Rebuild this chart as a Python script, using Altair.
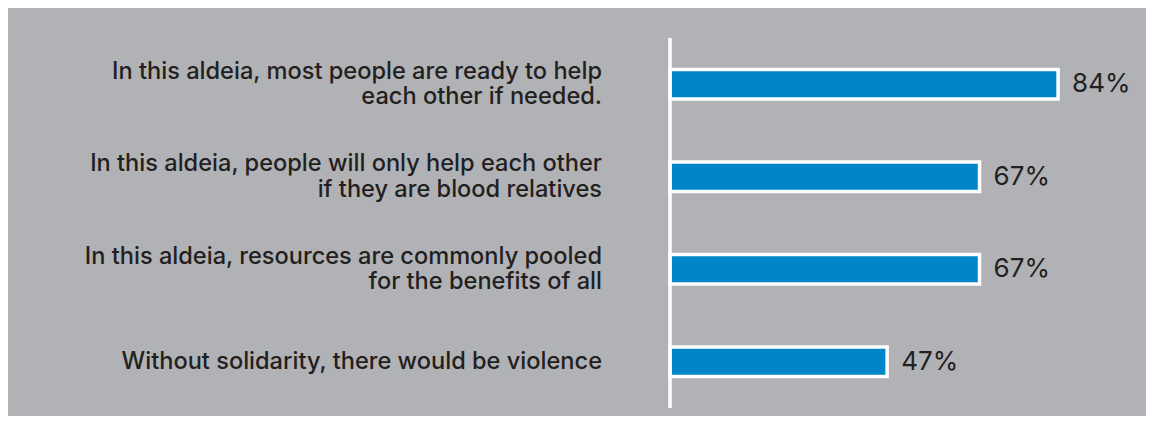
import altair as alt
import pandas as pd

line1 = [
    "In this aldeia, most people are ready to help",
    "In this aldeia, people will only help each other",
    "In this aldeia, resources are commonly pooled",
    "Without solidarity, there would be violence",
]
line2 = [
    "each other if needed.",
    "if they are blood relatives",
    "for the benefits of all",
    "",
]
values = [84, 67, 67, 47]
value_labels = ["84%", "67%", "67%", "47%"]

keys = ["s1", "s2", "s3", "s4"]
df = pd.DataFrame({"key": keys, "line1": line1, "line2": line2,
                   "value": values, "label": value_labels})

BG = "#b1b2b6"
BLUE = "#0085c8"
TEXT = "#231f20"
FONT = "Inter"

y_enc = alt.Y("key:N", sort=None, axis=None,
              scale=alt.Scale(domain=keys, paddingInner=0, paddingOuter=0))
x_scale = alt.Scale(domain=[0, 100])

base = alt.Chart(df)

bars = base.mark_bar(size=29.5, color=BLUE, stroke="white", strokeWidth=3.5).encode(
    x=alt.X("value:Q", scale=x_scale, axis=None),
    y=y_enc,
)

vals = base.mark_text(align="left", baseline="middle", dx=14, fontSize=26,
                      font=FONT, color=TEXT).encode(
    x=alt.X("value:Q", scale=x_scale, axis=None),
    y=y_enc,
    text="label:N",
)

cat_style = dict(align="right", baseline="middle",
                 fontSize=23.6, fontWeight=500, font=FONT, color=TEXT)

two = base.transform_filter("datum.line2 != ''")
one = base.transform_filter("datum.line2 == ''")

top_lines = two.mark_text(dy=-12.5, **cat_style).encode(
    x=alt.value(-68), y=y_enc, text="line1:N")
bottom_lines = two.mark_text(dy=13, **cat_style).encode(
    x=alt.value(-68), y=y_enc, text="line2:N")
single_lines = one.mark_text(**cat_style).encode(
    x=alt.value(-68), y=y_enc, text="line1:N")

rule = alt.Chart(pd.DataFrame({"x": [0]})).mark_rule(color="white", strokeWidth=3.5).encode(
    x=alt.X("x:Q", scale=x_scale, axis=None),
    y=alt.value(0),
    y2=alt.value(370),
)

chart = alt.layer(bars, rule, vals, top_lines, bottom_lines, single_lines).properties(
    width=462,
    height=370,
    background=BG,
    padding={"left": 662, "right": 14, "top": 30, "bottom": 8},
    autosize=alt.AutoSizeParams(type="none"),
).configure_view(stroke=None)

chart.save("out.html", embed_options={"renderer": "svg", "actions": False})
